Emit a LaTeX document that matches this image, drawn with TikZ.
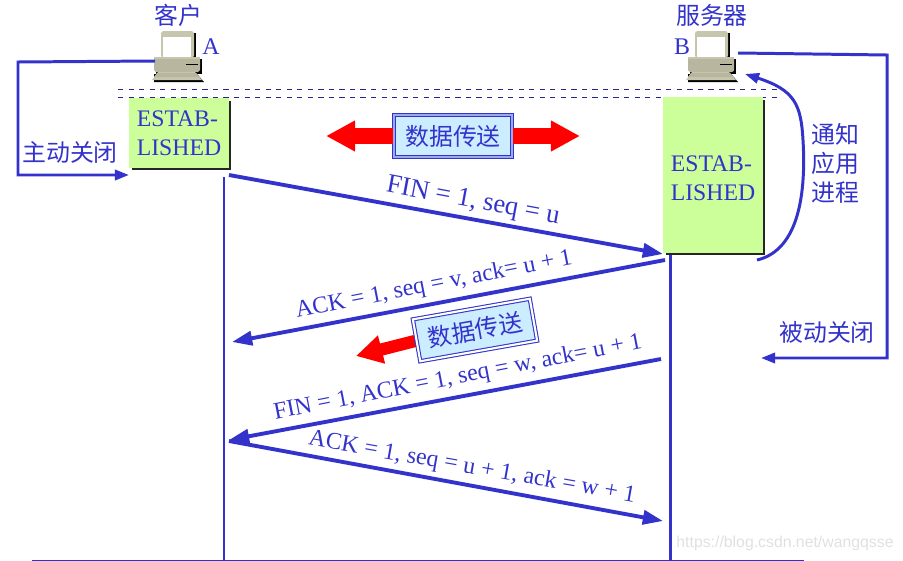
\documentclass[tikz,border=0pt]{standalone}
\usepackage{fontspec}
\setmainfont{Liberation Serif}
\setsansfont{Liberation Sans}
\newfontfamily\cjk{Noto Sans CJK SC}
\usetikzlibrary{arrows.meta, positioning, calc}
\definecolor{linkblue}{HTML}{3333CC}
\definecolor{boxgreen}{HTML}{CCFF99}
\definecolor{databg}{HTML}{CCECFF}
\definecolor{datagap}{HTML}{99AAEE}
\definecolor{pcbody}{HTML}{B8B69E}
\definecolor{pclight}{HTML}{C6C5AE}

\tikzset{
    pcicon/.pic={
        \fill[black] (-15,-20) rectangle (18,6);
        \fill[black] (-22,6) rectangle (24,21);
        \fill[black] (-24,21) -- (19,21) -- (26,29) -- (-24,29) -- cycle;
        \fill[pclight, rounded corners=1.5pt] (-17,-22) rectangle (16,5);
        \fill[white] (-15,-16) rectangle (13,4);
        \fill[pcbody, rounded corners=1pt] (-24,4) rectangle (22,19);
        \fill[pclight] (-24,4) rectangle (22,6);
        \draw[black, line width=0.5pt] (8,11) -- (20,11);
        \fill[pclight] (-20,19) -- (17,19) -- (24,27) -- (-26,27) -- cycle;
        \fill[pcbody] (-21,20) -- (18,20) -- (21,24) -- (-24,24) -- cycle;
    }
}

\begin{document}
\begin{tikzpicture}[
    x=0.02cm, y=-0.02cm,
    lbl/.style={text=linkblue, font=\fontsize{13.6}{16.5}\selectfont, inner sep=0pt},
    cjklbl/.style={text=linkblue, font=\fontsize{13.6}{16.5}\selectfont\cjk, inner sep=0pt, align=center},
    statebox/.style={fill=boxgreen, inner sep=0pt, anchor=north west},
    statetxt/.style={text=linkblue, font=\fontsize{13.5}{16.5}\selectfont, inner sep=0pt, align=left},
    databox/.style={draw=linkblue, fill=databg, double distance=1.2pt, line width=0.6pt,
                    text=linkblue, font=\fontsize{13.6}{16}\selectfont\cjk, inner sep=0pt,
                    minimum width=0.935in, minimum height=0.335in},
    arrow/.style={-{Triangle[length=11.5pt, width=8pt]}, line width=2.2pt, draw=linkblue},
    thinarrow/.style={-{Triangle[length=8pt, width=5.8pt]}, line width=1.7pt, draw=linkblue},
    bigarrow/.style={-{Triangle[length=16.5pt, width=16.5pt]}, line width=9pt, draw=red},
    dashline/.style={draw=linkblue!70!black, dashed, line width=0.5pt},
]
\useasboundingbox (0,0) rectangle (903,561);

% hosts
\pic at (178,53) {pcicon};
\pic at (712,53) {pcicon};
\node[cjklbl] (client) at (178,15) {客户};
\node[cjklbl] (server) at (712,15) {服务器};
\node[lbl] (hostA) at (211,47) {A};
\node[lbl] (hostB) at (682,47) {B};

\draw[dashline] (118,89) coordinate (dashAl) -- (778,89) coordinate (dashAr);
\draw[dashline] (118,97) coordinate (dashBl) -- (778,97) coordinate (dashBr);

% state boxes
\fill[black!85] (132,101) rectangle (231,170);
\fill[black!85] (666,100) rectangle (765,255);
\node[statebox, minimum width=100*0.02cm, minimum height=70*0.02cm] (estabA) at (129,98) {};
\node[statebox, minimum width=100*0.02cm, minimum height=156*0.02cm] (estabB) at (663,97) {};
\node[statetxt] (estabAtxt) at (179,133) {ESTAB-\\LISHED};
\node[statetxt] (estabBtxt) at (713,178) {ESTAB-\\LISHED};

% time lines
\coordinate (axisA) at (224,177);
\coordinate (axisB) at (670,255);
\coordinate (floorL) at (32,560.5);
\coordinate (floorR) at (804,560.5);
\coordinate (floorA) at (224,560);
\coordinate (floorB) at (670,560);
\draw[linkblue, line width=0.7pt] (floorL) -- (floorR);
\draw[linkblue, line width=1.7pt] (axisA) -- (floorA);
\draw[linkblue, line width=1.7pt] (axisB) -- (floorB);

% data transfer
\node[databox, double=datagap] (data1) at (453,136) {\raisebox{1pt}{数据传送}};
\coordinate[left=67*0.02cm of data1.west] (tipL);
\coordinate[right=67*0.02cm of data1.east] (tipR);
\draw[bigarrow] (data1.west) -- (tipL);
\draw[bigarrow] (data1.east) -- (tipR);

\coordinate (tipD) at (356,356);
\coordinate (tailD) at (415,341);
\draw[bigarrow, line width=7pt, -{Triangle[length=15pt, width=15.5pt]}] (tailD) -- (tipD);
\node[databox, double=white, rotate=10] (data2) at (475,330) {数据传送};

% messages
\coordinate (finS) at (229,175);
\coordinate (finE) at (663,254);
\coordinate (ackS) at (665,260);
\coordinate (ackE) at (232,342);
\coordinate (fin2S) at (661,359);
\coordinate (fin2E) at (229,440);
\coordinate (ack2S) at (229,441);
\coordinate (ack2E) at (663,521);
\draw[arrow] (finS) -- (finE);
\draw[arrow] (ackS) -- (ackE);
\draw[arrow] (fin2S) -- (fin2E);
\draw[arrow] (ack2S) -- (ack2E);
\node[lbl, font=\fontsize{15.2}{18}\selectfont, rotate=-10.5] (msg1) at (473,202) {FIN = 1, seq = u};
\node[lbl, rotate=11] (msg2) at (434,285) {ACK = 1, seq = v, ack= u + 1};
\node[lbl, rotate=11] (msg3) at (458,378) {FIN = 1, ACK = 1, seq = w, ack= u + 1};
\node[lbl, rotate=-10] (msg4) at (472,468) {ACK = 1, seq = u + 1, ack = w + 1};

% close notices
\coordinate (activeS) at (155,61);
\coordinate (passiveS) at (738,53);
\coordinate (passiveE) at (761,358);
\coordinate (notifyS) at (757,260);
\coordinate (notifyE) at (745,74);
\draw[thinarrow] (activeS) -- (18,62) -- (18,175) -- (estabA.south west |- 0,175);
\draw[thinarrow] (passiveS) -- (887,55) -- (887,358) -- (passiveE);
\draw[thinarrow] (notifyS) .. controls (800,250) and (806,190) .. (803,140)
    .. controls (801,105) and (795,90) .. (notifyE);
\node[cjklbl] (activeclose) at (70,152) {主动关闭};
\node[cjklbl] (passiveclose) at (827,332) {被动关闭};
\node[cjklbl] (notify) at (835,163) {通知\\应用\\进程};

\node[text=black!12, font=\fontsize{9}{11}\selectfont\sffamily, inner sep=0pt] (mark) at (785,543) {https://blog.csdn.net/wangqsse};
\end{tikzpicture}
\end{document}
